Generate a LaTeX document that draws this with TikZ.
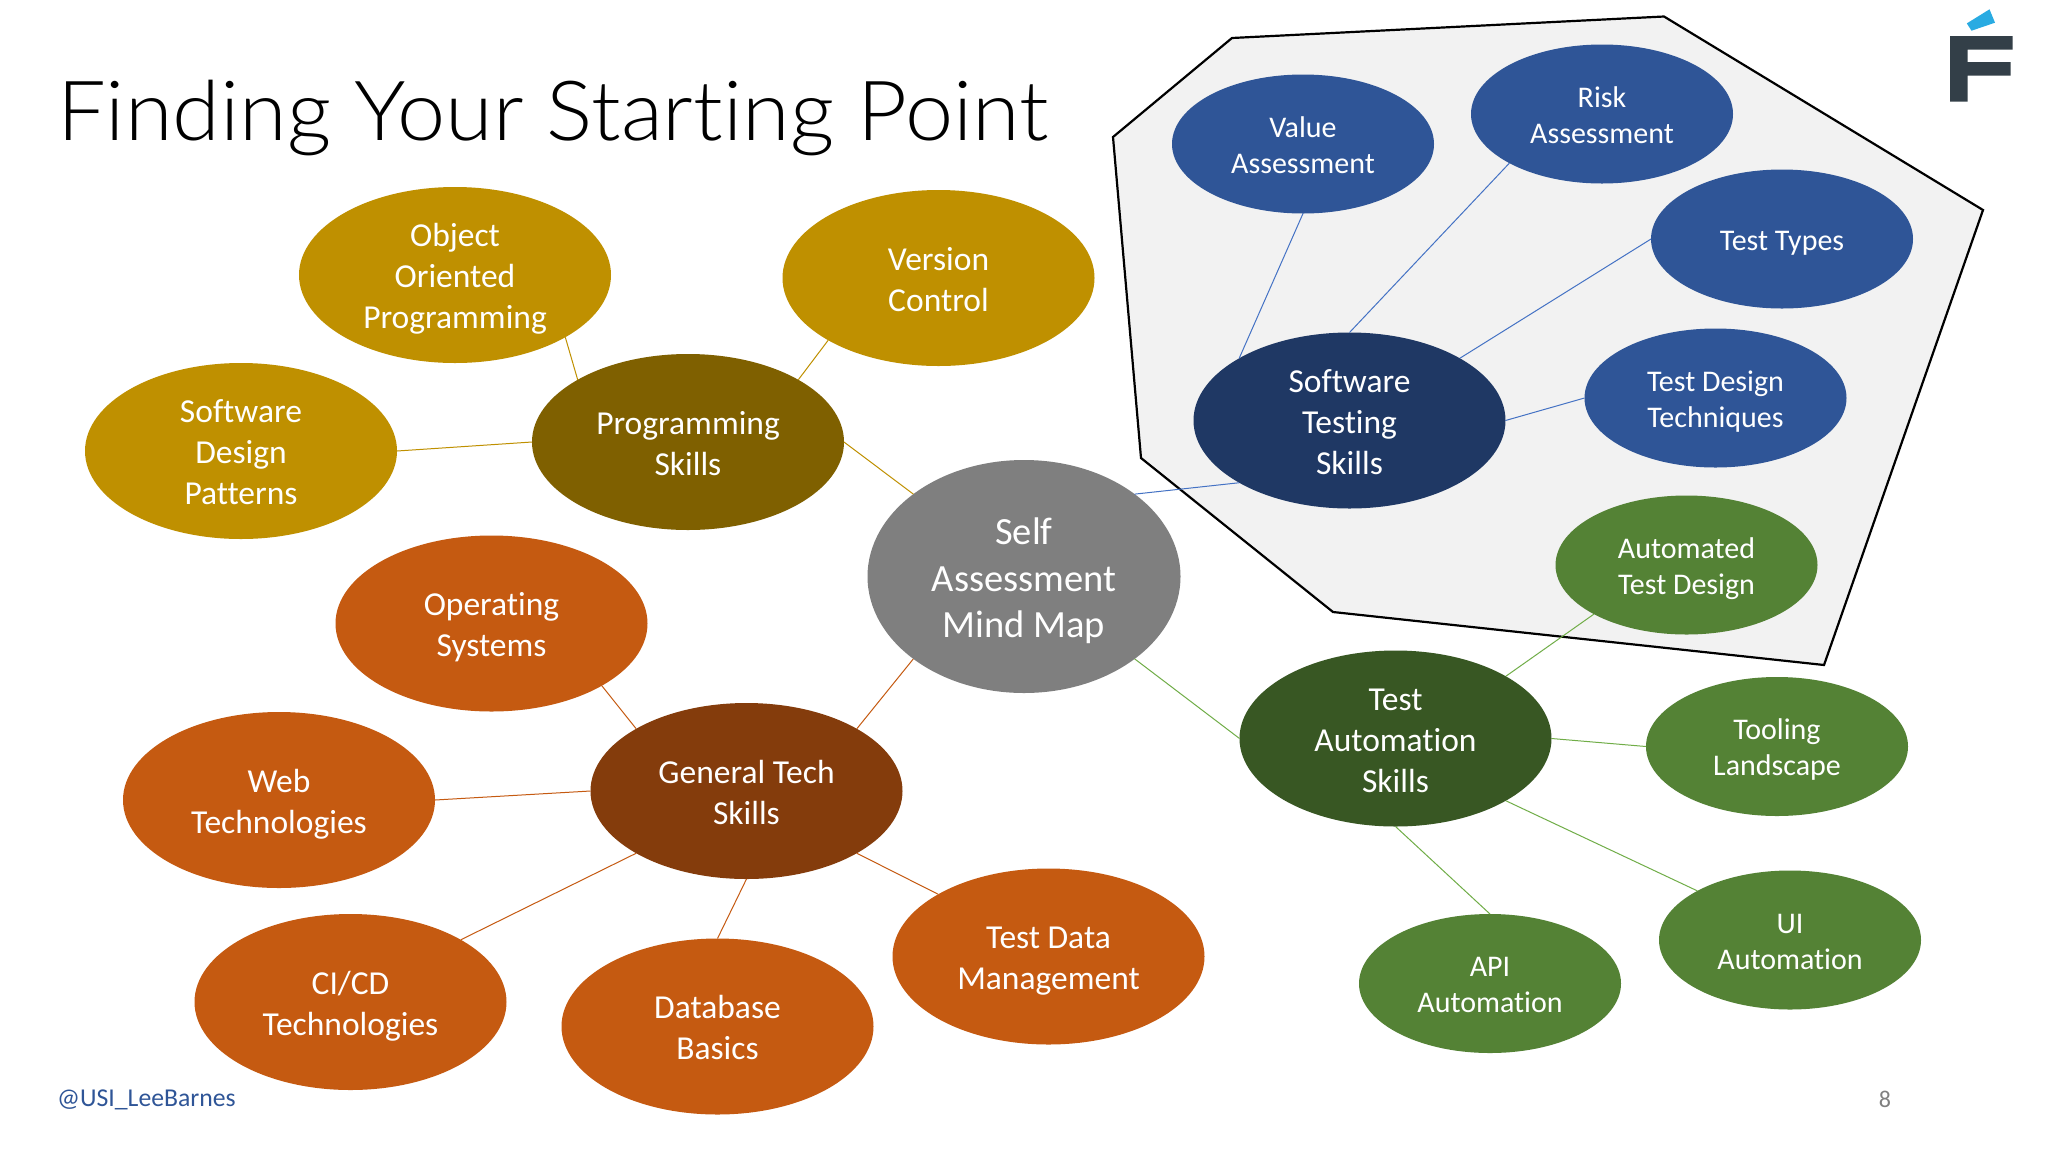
\documentclass[tikz,border=0pt]{standalone}
\usepackage{fontspec}
\setmainfont{Carlito}[Ligatures=NoCommon]
\newfontfamily\titlefont{Lato Light}[FakeStretch=1.042,Ligatures=NoCommon]
\usetikzlibrary{shapes.geometric}
\definecolor{gold}{HTML}{BF9000}
\definecolor{golddk}{HTML}{7F6000}
\definecolor{rust}{HTML}{C55A11}
\definecolor{rustdk}{HTML}{843C0C}
\definecolor{leaf}{HTML}{548235}
\definecolor{leafdk}{HTML}{385723}
\definecolor{navy}{HTML}{2F5597}
\definecolor{navydk}{HTML}{1F3864}
\definecolor{midgrey}{HTML}{7F7F7F}
\definecolor{logodark}{HTML}{333F48}
\definecolor{logoblue}{HTML}{29ABE2}
\definecolor{navyline}{HTML}{4472C4}
\definecolor{leafline}{HTML}{70AD47}
\newcommand{\T}{\rule{0pt}{1.01em}}
\newcommand{\B}{\rule[-.25em]{0pt}{.25em}}
\tikzset{
  bub/.style={ellipse,inner sep=0pt,outer sep=0pt,align=center,text=white},
  big/.style={bub,minimum width=312pt,minimum height=176pt,font=\fontsize{33.5}{41}\selectfont},
  small/.style={bub,minimum width=262pt,minimum height=139pt,font=\fontsize{30}{36}\selectfont},
  hub/.style={bub,minimum width=313pt,minimum height=233pt,font=\fontsize{38.5}{46.5}\selectfont,fill=midgrey},
  goldlink/.style={draw=gold,line width=1pt},
  rustlink/.style={draw=rust,line width=1pt},
  leaflink/.style={draw=leafline,line width=1pt},
  navylink/.style={draw=navyline,line width=1pt},
}
\begin{document}
\begin{tikzpicture}[x=1pt,y=-1pt]
\useasboundingbox (0,0) rectangle (2048,1152);
\fill[white] (0,0) rectangle (2048,1152);

% enclosing polygon
\draw[fill=black!5,draw=black,line width=2.2pt,line join=miter]
  (1232,38) -- (1664,16.5) -- (1983,210) -- (1824,665) -- (1333,612) -- (1141,458) -- (1113,137) -- cycle;

% title and footer
\node[anchor=base west,inner sep=0pt,font=\titlefont\fontsize{83}{100}\selectfont] (title) at (57,140) {Finding Your Starting Point};
\node[anchor=base west,inner sep=0pt,font=\fontsize{25.7}{30}\selectfont,text=navy] (handle) at (57,1106) {@USI\_LeeBarnes};
\node[anchor=base,inner sep=0pt,font=\fontsize{24}{28}\selectfont,text=black!50] (pageno) at (1889,1107) {\hspace{-8pt}8};

% logo
\fill[logodark] (1950,36) -- (2012.5,36) -- (2012.5,49.5) -- (1967.5,49.5) -- (1967.5,62) -- (2010.5,62) -- (2010.5,75.5) -- (1967.5,75.5) -- (1967.5,101.5) -- (1950,101.5) -- cycle;
\fill[logoblue] (1966.8,23.4) -- (1989.5,9.3) -- (1995,22.7) -- (1971.5,30.7) -- cycle;

% hub
\node[hub] (self) at (1024,576.5) {\T Self\\Assessment\\Mind Map\B};

% programming
\node[big,fill=golddk] (prog) at (688,442) {\T Programming\\Skills\B};
\node[big,fill=gold] (oop) at (455,275) {\T Object\\Oriented\\Programming\B};
\node[big,fill=gold] (vc) at (938.5,278) {\T Version\\Control\B};
\node[big,fill=gold] (sdp) at (241,451) {\T Software\\Design\\Patterns\B};

% general tech
\node[big,fill=rustdk] (gen) at (746.5,791) {\T General Tech\\Skills\B};
\node[big,fill=rust] (os) at (491.5,623.5) {\T Operating\\Systems\B};
\node[big,fill=rust] (web) at (279,800) {\T Web\\Technologies\B};
\node[big,fill=rust] (cicd) at (350.5,1002) {\T CI/CD\\Technologies\B};
\node[big,fill=rust] (db) at (717.5,1026.5) {\T Database\\Basics\B};
\node[big,fill=rust] (tdm) at (1048.5,956.5) {\T Test Data\\Management\B};

% testing
\node[big,fill=navydk] (sts) at (1349.5,420.5) {\T Software\\Testing\\Skills\B};
\node[small,fill=navy] (value) at (1303,144) {\T Value\\Assessment\B};
\node[small,fill=navy] (risk) at (1602,114) {\T Risk\\Assessment\B};
\node[small,fill=navy] (types) at (1782,239) {\T Test Types\B};
\node[small,fill=navy] (design) at (1715.5,398) {\T Test Design\\Techniques\B};

% automation
\node[big,fill=leafdk] (auto) at (1395.5,738.5) {\T Test\\Automation\\Skills\B};
\node[small,fill=leaf] (atd) at (1686.5,565) {\T Automated\\Test Design\B};
\node[small,fill=leaf] (tool) at (1777,746.5) {\T Tooling\\Landscape\B};
\node[small,fill=leaf] (ui) at (1790,940) {\T UI\\Automation\B};
\node[small,fill=leaf] (api) at (1490,983.5) {\T API\\Automation\B};

% connectors
\draw[goldlink] (prog.east) -- (self.north west);
\draw[goldlink] (prog.north west) -- (oop.south east);
\draw[goldlink] (prog.north east) -- (vc.south west);
\draw[goldlink] (prog.west) -- (sdp.east);

\draw[rustlink] (self.south west) -- (gen.north east);
\draw[rustlink] (gen.north west) -- (os.south east);
\draw[rustlink] (gen.west) -- (web.east);
\draw[rustlink] (gen.south west) -- (cicd.north east);
\draw[rustlink] (gen.south) -- (db.north);
\draw[rustlink] (gen.south east) -- (tdm.north west);

\draw[navylink] (self.north east) -- (sts.south west);
\draw[navylink] (sts.north west) -- (value.south);
\draw[navylink] (sts.north) -- (risk.south west);
\draw[navylink] (sts.north east) -- (types.west);
\draw[navylink] (sts.east) -- (design.west);

\draw[leaflink] (self.south east) -- (auto.west);
\draw[leaflink] (auto.north east) -- (atd.south west);
\draw[leaflink] (auto.east) -- (tool.west);
\draw[leaflink] (auto.south east) -- (ui.north west);
\draw[leaflink] (auto.south) -- (api.north);
\end{tikzpicture}
\end{document}
